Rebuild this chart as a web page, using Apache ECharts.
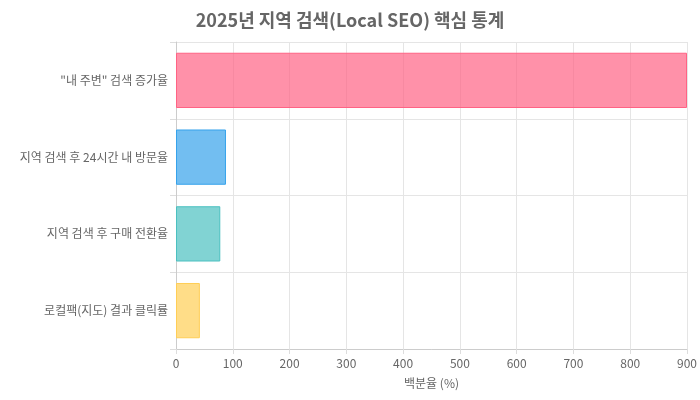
<!DOCTYPE html>
<html><head><meta charset="utf-8">
<script src="https://cdn.jsdelivr.net/npm/echarts@6/dist/echarts.min.js"></script>
<style>html,body{margin:0;padding:0;background:#fff}#c{width:700px;height:400px}</style>
</head><body><div id="c"></div>
<script>
const categories = ['"내 주변" 검색 증가율','지역 검색 후 24시간 내 방문율','지역 검색 후 구매 전환율','로컬팩(지도) 결과 클릭률'];
const values = [900, 88, 78, 42];
const fills = ['rgba(255,99,132,0.7)','rgba(54,162,235,0.7)','rgba(75,192,192,0.7)','rgba(255,206,86,0.7)'];
const borders = ['rgb(255,99,132)','rgb(54,162,235)','rgb(75,192,192)','rgb(255,206,86)'];
const chart = echarts.init(document.getElementById('c'));
const font = '"Noto Sans CJK KR", "Noto Sans", sans-serif';
chart.setOption({
  textStyle:{fontFamily:font},
  title:{text:'2025년 지역 검색(Local SEO) 핵심 통계',left:'center',top:6,textStyle:{fontSize:18,fontWeight:'bold',color:'#666',fontFamily:font}},
  grid:{left:176,right:13,top:42,bottom:51},
  xAxis:{type:'value',min:0,max:900,interval:100,name:'백분율 (%)',nameLocation:'middle',nameGap:28,
    nameTextStyle:{color:'#666',fontSize:12},
    axisLabel:{color:'#666',fontSize:12},axisLine:{show:true,lineStyle:{color:'#ccc'}},axisTick:{show:true,lineStyle:{color:'#ddd'}},
    splitLine:{lineStyle:{color:'#e5e5e5'}}},
  yAxis:{type:'category',inverse:true,data:categories,
    axisLabel:{color:'#666',fontSize:12},axisLine:{show:true,lineStyle:{color:'#ccc'}},axisTick:{show:true,length:6,lineStyle:{color:'#ddd'}},
    splitLine:{show:true,lineStyle:{color:'#e5e5e5'}}},
  series:[{type:'bar',barWidth:'72%',
    data:values.map((v,i)=>({value:v,itemStyle:{color:fills[i],borderColor:borders[i],borderWidth:1}}))}]
});
</script></body></html>
